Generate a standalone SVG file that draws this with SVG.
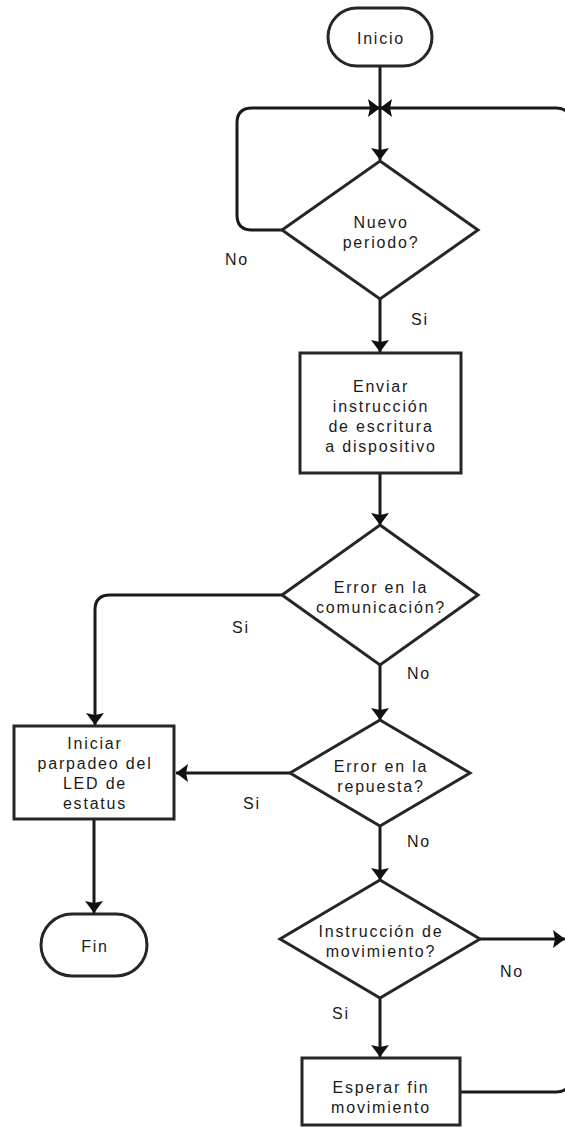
<svg xmlns="http://www.w3.org/2000/svg" width="565" height="1128" viewBox="0 0 565 1128">
<style>
.s{fill:#fff;stroke:#262626;stroke-width:3}
.c{fill:none;stroke:#1a1a1a;stroke-width:3}
text{font-family:"Liberation Sans",Arial,sans-serif;font-size:16px;fill:#1a1a1a;letter-spacing:1.8px;text-anchor:middle}
</style>
<defs>
<marker id="a" viewBox="0 0 12 18" refX="12" refY="9" markerWidth="12" markerHeight="18" markerUnits="userSpaceOnUse" orient="auto">
<path d="M0,0 L12,9 L0,18 L2,9 Z" fill="#111"/>
</marker>
</defs>
<g id="connectors">
<path class="c" d="M380,67 V160" marker-end="url(#a)"/>
<path class="c" d="M282,230 H252 Q237,230 237,215 V123 Q237,108 252,108 H380" marker-end="url(#a)"/>
<path class="c" d="M461,1092 H556 Q570,1092 570,1078 V122 Q570,108 556,108 H380" marker-end="url(#a)"/>
<path class="c" d="M380,299 V352" marker-end="url(#a)"/>
<path class="c" d="M380,474 V525" marker-end="url(#a)"/>
<path class="c" d="M282,595 H110 Q95,595 95,610 V725" marker-end="url(#a)"/>
<path class="c" d="M380,665 V720" marker-end="url(#a)"/>
<path class="c" d="M290,773 H176" marker-end="url(#a)"/>
<path class="c" d="M380,826 V880" marker-end="url(#a)"/>
<path class="c" d="M480,939 H565" marker-end="url(#a)"/>
<path class="c" d="M380,998 V1057" marker-end="url(#a)"/>
<path class="c" d="M94,820 V913" marker-end="url(#a)"/>
<text x="237" y="265">No</text>
<text x="420" y="325">Si</text>
<text x="241" y="633">Si</text>
<text x="419" y="679">No</text>
<text x="252" y="809">Si</text>
<text x="419" y="847">No</text>
<text x="512" y="977">No</text>
<text x="341" y="1019">Si</text>
</g>
<g id="inicio">
<rect class="s" x="328" y="8" width="104" height="58" rx="29"/>
<text x="381" y="44">Inicio</text>
</g>
<g id="nuevo-periodo">
<polygon class="s" points="380,161 478,230 380,299 282,230"/>
<text x="381" y="228">Nuevo</text>
<text x="381" y="248">periodo?</text>
</g>
<g id="enviar">
<rect class="s" x="300" y="353" width="161" height="120"/>
<text x="381" y="392">Enviar</text>
<text x="381" y="412">instrucción</text>
<text x="381" y="432">de escritura</text>
<text x="381" y="452">a dispositivo</text>
</g>
<g id="error-comunicacion">
<polygon class="s" points="380,525 478,595 380,665 282,595"/>
<text x="381" y="593">Error en la</text>
<text x="381" y="613">comunicación?</text>
</g>
<g id="iniciar-parpadeo">
<rect class="s" x="14" y="726" width="160" height="93"/>
<text x="95" y="749">Iniciar</text>
<text x="95" y="769">parpadeo del</text>
<text x="95" y="789">LED de</text>
<text x="95" y="809">estatus</text>
</g>
<g id="error-respuesta">
<polygon class="s" points="380,720 470,773 380,826 290,773"/>
<text x="381" y="772">Error en la</text>
<text x="381" y="792">repuesta?</text>
</g>
<g id="fin">
<rect class="s" x="41" y="914" width="106" height="62" rx="31"/>
<text x="95" y="952">Fin</text>
</g>
<g id="instruccion-movimiento">
<polygon class="s" points="380,880 480,939 380,998 280,939"/>
<text x="381" y="937">Instrucción de</text>
<text x="381" y="957">movimiento?</text>
</g>
<g id="esperar">
<rect class="s" x="302" y="1058" width="158" height="67"/>
<text x="381" y="1093">Esperar fin</text>
<text x="381" y="1113">movimiento</text>
</g>
</svg>
